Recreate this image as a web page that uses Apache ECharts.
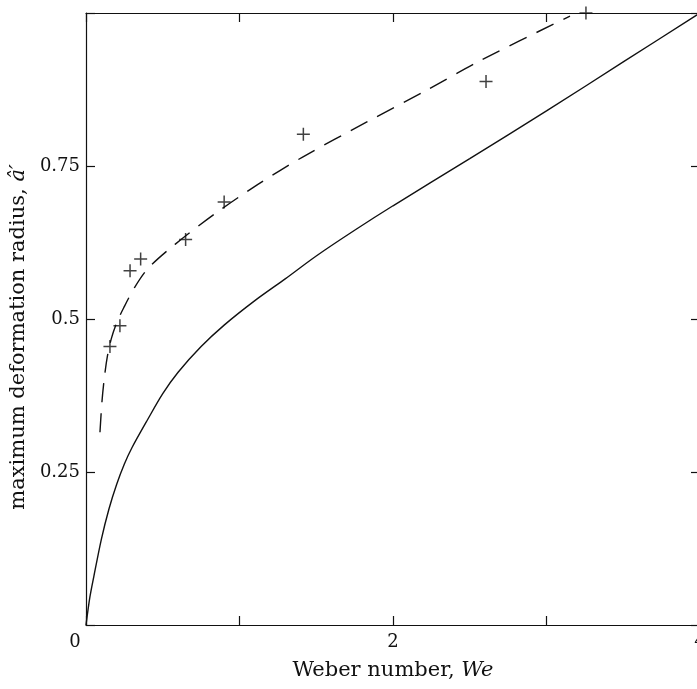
<!DOCTYPE html>
<html>
<head>
<meta charset="utf-8">
<script src="https://cdn.jsdelivr.net/npm/echarts@6/dist/echarts.min.js"></script>
<style>
  html, body { margin: 0; padding: 0; background: #fff; }
  #chart { width: 697px; height: 689px; }
</style>
</head>
<body>
<div id="chart"></div>
<script>
// Theory (solid): maximum deformation radius vs Weber number
const theoryWe = [0, 0.025, 0.05, 0.1, 0.15, 0.2, 0.25, 0.3, 0.4, 0.5, 0.6, 0.75, 0.9, 1.1, 1.3, 1.5, 1.75, 2.0, 2.5, 3.0, 3.5, 4.0];
const theoryA  = [0, 0.045, 0.078, 0.14, 0.19, 0.23, 0.263, 0.29, 0.335, 0.378, 0.413, 0.455, 0.49, 0.53, 0.566, 0.603, 0.645, 0.685, 0.762, 0.84, 0.92, 1.0];

// Fitted (dashed) curve
const fitWe = [0.091, 0.104, 0.12, 0.14, 0.165, 0.2, 0.245, 0.32, 0.405, 0.58, 0.84, 1.12, 1.414, 1.83, 2.22, 2.567, 3.153];
const fitA  = [0.315, 0.365, 0.405, 0.44, 0.468, 0.494, 0.518, 0.553, 0.583, 0.622, 0.672, 0.72, 0.765, 0.822, 0.874, 0.922, 0.995];

// Measured points
const expWe = [0.156, 0.221, 0.287, 0.356, 0.649, 0.9, 1.416, 2.606, 3.257];
const expA  = [0.455, 0.489, 0.579, 0.598, 0.630, 0.691, 0.802, 0.888, 1.0];

// Axis tick labels
const xTickLabels = { 0: '0', 2: '2', 4: '4' };
const yTickLabels = { 0.25: '0.25', 0.5: '0.5', 0.75: '0.75' };

const zip = (xs, ys) => xs.map((x, i) => [x, ys[i]]);

const FONT = 'DejaVu Serif';
const INK = '#111';

function frameAxis(extra) {
  return Object.assign({
    type: 'value',
    axisLine: { show: true, onZero: false, lineStyle: { color: INK, width: 1.2 } },
    axisTick: { show: true, inside: true, length: 9, lineStyle: { color: INK, width: 1.2 } },
    splitLine: { show: false }
  }, extra);
}

const chart = echarts.init(document.getElementById('chart'));
chart.setOption({
  animation: false,
  backgroundColor: '#fff',
  grid: { left: 86, top: 13, width: 614, height: 612, outerBoundsMode: 'none', containLabel: false },
  xAxis: [
    frameAxis({
      min: 0, max: 4, interval: 1, position: 'bottom',
      name: 'Weber number, {i|We}',
      nameLocation: 'middle', nameGap: 35,
      nameTextStyle: {
        fontFamily: FONT, fontSize: 21, color: INK,
        rich: { i: { fontFamily: FONT, fontSize: 21, fontStyle: 'italic', color: INK } }
      },
      axisLabel: {
        margin: 8, fontFamily: FONT, fontSize: 18, color: INK,
        formatter: v => v === 0 ? '{z|0}' : (xTickLabels[v] || ''),
        rich: { z: { fontFamily: FONT, fontSize: 18, color: INK, padding: [0, 22, 0, 0] } }
      }
    }),
    frameAxis({
      min: 0, max: 4, interval: 1, position: 'top',
      axisLabel: { show: false }
    })
  ],
  yAxis: [
    frameAxis({
      min: 0, max: 1, interval: 0.25, position: 'left',
      name: 'maximum deformation radius, {i|â′}',
      nameLocation: 'middle', nameGap: 49,
      nameTextStyle: {
        fontFamily: FONT, fontSize: 21, color: INK, padding: [0, 36, 0, 0],
        rich: { i: { fontFamily: FONT, fontSize: 21, fontStyle: 'italic', color: INK } }
      },
      axisLabel: {
        margin: 6, fontFamily: FONT, fontSize: 18, color: INK,
        formatter: v => yTickLabels[v] || ''
      }
    }),
    frameAxis({
      min: 0, max: 1, interval: 0.25, position: 'right',
      axisLabel: { show: false }
    })
  ],
  series: [
    {
      name: 'theory', type: 'line', smooth: 0.3, showSymbol: false,
      data: zip(theoryWe, theoryA),
      lineStyle: { color: INK, width: 1.4 }
    },
    {
      name: 'fit', type: 'line', smooth: 0.3, showSymbol: false,
      data: zip(fitWe, fitA),
      lineStyle: { color: INK, width: 1.4, type: [19, 11] }
    },
    {
      name: 'measured', type: 'scatter',
      data: zip(expWe, expA),
      symbol: 'path://M0,6 L12,6 M6,0 L6,12',
      symbolSize: 13,
      itemStyle: { color: 'none', borderColor: INK, borderWidth: 1.5 }
    }
  ]
});
</script>
</body>
</html>
